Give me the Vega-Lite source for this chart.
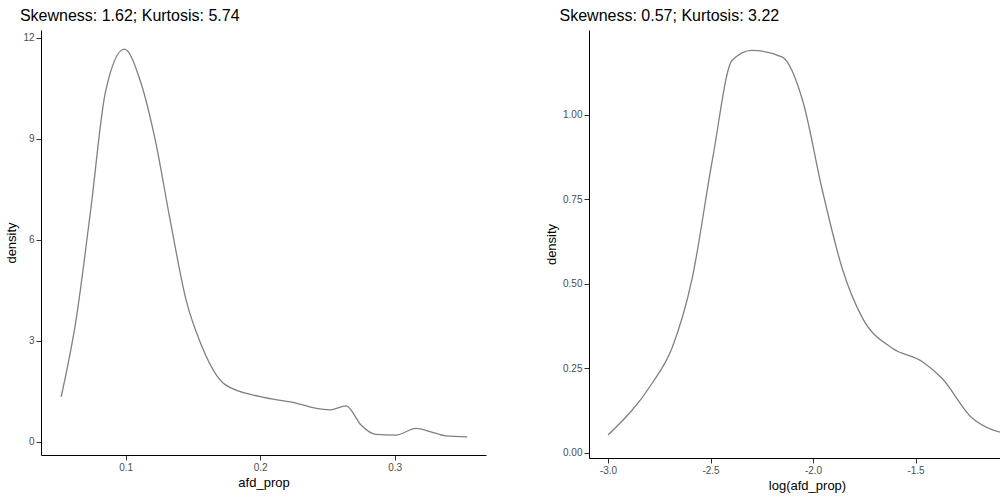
{
  "$schema": "https://vega.github.io/schema/vega-lite/v6.json",
  "padding": {"left": 5, "top": 8, "right": 5, "bottom": 5},
  "spacing": 59,
  "config": {
    "view": {"stroke": null},
    "font": "Liberation Sans",
    "axis": {"grid": false, "domainColor": "black", "tickColor": "#333", "labelColor": "#4d4d4d", "labelFontSize": 10, "titleFontSize": 13, "titleFontWeight": "normal", "titleColor": "black"},
    "title": {"anchor": "start", "fontSize": 16, "fontWeight": "normal", "offset": 6, "dx": 14}
  },
  "hconcat": [
    {
      "title": "Skewness: 1.62; Kurtosis: 5.74",
      "width": 445, "height": 425,
      "data": {"values": [
        {"x": 0.052, "y": 1.34}, {"x": 0.063, "y": 3.6}, {"x": 0.074, "y": 6.9}, {"x": 0.085, "y": 10.4},
        {"x": 0.099, "y": 11.66}, {"x": 0.111, "y": 10.7}, {"x": 0.122, "y": 8.96}, {"x": 0.133, "y": 6.6},
        {"x": 0.145, "y": 4.2}, {"x": 0.156, "y": 2.9}, {"x": 0.174, "y": 1.7}, {"x": 0.2, "y": 1.34},
        {"x": 0.226, "y": 1.16}, {"x": 0.241, "y": 1.0}, {"x": 0.252, "y": 0.95}, {"x": 0.264, "y": 1.07},
        {"x": 0.275, "y": 0.5}, {"x": 0.286, "y": 0.22}, {"x": 0.301, "y": 0.2}, {"x": 0.316, "y": 0.4},
        {"x": 0.327, "y": 0.3}, {"x": 0.338, "y": 0.18}, {"x": 0.354, "y": 0.15}
      ]},
      "mark": {"type": "line", "color": "#808080", "strokeWidth": 1.3, "interpolate": "monotone"},
      "encoding": {
        "x": {"field": "x", "type": "quantitative", "title": "afd_prop", "scale": {"domain": [0.037, 0.368], "nice": false, "zero": false}, "axis": {"values": [0.1, 0.2, 0.3], "format": ".1f"}},
        "y": {"field": "y", "type": "quantitative", "title": "density", "scale": {"domain": [-0.39, 12.23], "nice": false}, "axis": {"values": [0, 3, 6, 9, 12]}}
      }
    },
    {
      "title": "Skewness: 0.57; Kurtosis: 3.22",
      "width": 436, "height": 428,
      "data": {"values": [
        {"x": -3.0, "y": 0.053}, {"x": -2.785, "y": 0.206}, {"x": -2.688, "y": 0.31}, {"x": -2.59, "y": 0.515},
        {"x": -2.49, "y": 0.87}, {"x": -2.395, "y": 1.16}, {"x": -2.298, "y": 1.19}, {"x": -2.15, "y": 1.17},
        {"x": -2.05, "y": 1.04}, {"x": -1.956, "y": 0.78}, {"x": -1.858, "y": 0.546}, {"x": -1.76, "y": 0.4},
        {"x": -1.615, "y": 0.31}, {"x": -1.468, "y": 0.27}, {"x": -1.37, "y": 0.22}, {"x": -1.224, "y": 0.103},
        {"x": -1.03, "y": 0.053}
      ]},
      "mark": {"type": "line", "color": "#808080", "strokeWidth": 1.3, "interpolate": "monotone"},
      "encoding": {
        "x": {"field": "x", "type": "quantitative", "title": "log(afd_prop)", "scale": {"domain": [-3.093, -0.966], "nice": false, "zero": false}, "axis": {"values": [-3, -2.5, -2, -1.5, -1], "labelExpr": "replace(format(datum.value, '.1f'), '−', '-')"}},
        "y": {"field": "y", "type": "quantitative", "title": "density", "scale": {"domain": [-0.015, 1.25], "nice": false}, "axis": {"values": [0, 0.25, 0.5, 0.75, 1], "format": ".2f"}}
      }
    }
  ]
}
